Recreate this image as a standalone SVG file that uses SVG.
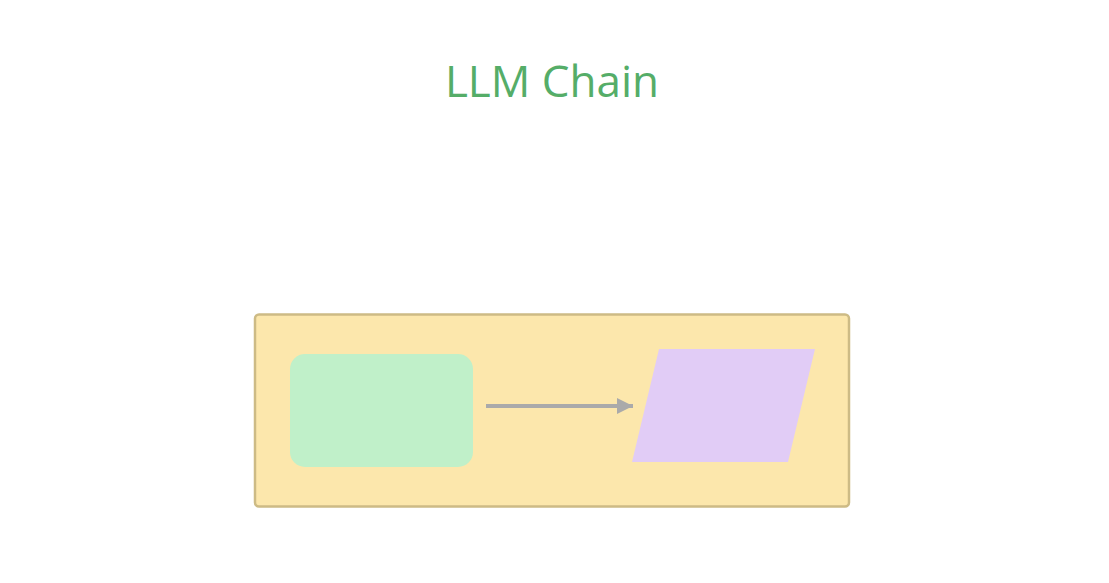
<svg xmlns="http://www.w3.org/2000/svg" width="1109" height="583" viewBox="0 0 1109 583">
<defs>
<style>
.title{font-family:"Open Sans","Noto Sans",sans-serif;font-size:44px;fill:#55ad68;}
.conn{stroke:#aaaaaa;stroke-width:4;fill:none;}
</style>
<marker id="ah" markerWidth="18" markerHeight="18" refX="16" refY="8" orient="auto" markerUnits="userSpaceOnUse">
<path d="M0,0 L16,8 L0,16 Z" fill="#aaaaaa"/>
</marker>
</defs>
<rect width="1109" height="583" fill="#ffffff"/>
<text class="title" x="552" y="97" text-anchor="middle">LLM Chain</text>
<g id="container">
<rect x="255" y="314.5" width="594" height="192" rx="4" fill="#fce7ac" stroke="#cdbb85" stroke-width="2.5"/>
</g>
<g id="node-rect">
<rect x="290" y="354" width="183" height="113" rx="15" fill="#c0f0c9"/>
</g>
<g id="node-para">
<polygon points="659,349 815,349 788,462 632,462" fill="#e1ccf6"/>
</g>
<g id="connectors">
<line class="conn" x1="486" y1="406" x2="633" y2="406" marker-end="url(#ah)"/>
</g>
</svg>
